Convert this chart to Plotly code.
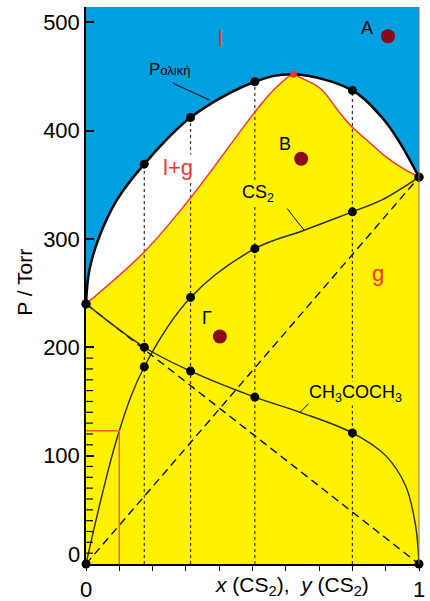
import plotly.graph_objects as go

# ---------------- data ----------------
# total pressure curve (liquid line), x(CS2) vs P / Torr
total_x = [0, 0.01, 0.04, 0.093, 0.175, 0.314, 0.507, 0.623, 0.80, 0.889, 0.94, 1]
total_p = [240, 271, 302, 336, 369, 412, 445, 452, 437, 412, 390, 357]

# vapour composition curve (red)
vap_x = [0, 0.175, 0.314, 0.507, 0.562, 0.623, 0.643, 0.703, 0.763, 0.80, 0.844, 0.904, 0.952, 1]
vap_p = [240, 288, 338, 417, 437, 452, 449, 439, 416, 403, 391, 375, 365, 357]

# partial pressure of CS2
cs2_x = [0, 0.1, 0.175, 0.314, 0.507, 0.655, 0.80, 0.889, 1]
cs2_p = [0, 123, 182, 246, 291, 308, 325, 336, 357]

# partial pressure of acetone
ac_x = [0, 0.175, 0.314, 0.507, 0.643, 0.80, 0.90, 0.96, 0.99, 1]
ac_p = [240, 200, 178, 154, 140, 121, 100, 72, 35, 0]

# measured points
sample_x = [0, 0.175, 0.314, 0.507, 0.80, 1]
total_dots = [240, 369, 412, 445, 437, 357]
cs2_dots = [0, 182, 246, 291, 325, 357]
ac_dots = [240, 200, 178, 154, 121, 0]

# azeotrope maximum
azeo_x = [0.623]
azeo_p = [452]

# state points A, B, Γ
state_names = ["A", "B", "Γ"]
state_x = [0.907, 0.646, 0.402]
state_p = [487, 374, 210]

# Raoult ideal lines
raoult_cs2_x = [0, 1]
raoult_cs2_p = [0, 357]
raoult_ac_x = [0, 1]
raoult_ac_p = [240, 0]

# red marker rectangle (x = 0.1)
mark_x = 0.1
mark_p = 123

y_major = [0, 100, 200, 300, 400, 500]
y_minor = [v for v in range(10, 200, 10) if v != 100]
x_ticks = [round(i * 0.1, 1) for i in range(11)]
x_ticktext = ["0"] + [""] * 9 + ["1"]

BLUE = "#009FE0"
YELLOW = "#FFF200"
RED = "#EE3535"
DARKRED = "#8A0A1A"
FONT = "Liberation Sans, Arial, sans-serif"

fig = go.Figure()

# fills
fig.add_trace(go.Scatter(x=total_x, y=total_p, mode="lines",
                         line=dict(width=0, shape="spline", smoothing=1),
                         fill="tozeroy", fillcolor="white", hoverinfo="skip"))
fig.add_trace(go.Scatter(x=vap_x, y=vap_p, mode="lines",
                         line=dict(width=0, shape="spline", smoothing=1),
                         fill="tozeroy", fillcolor=YELLOW, hoverinfo="skip"))

# vertical dotted tie lines
vx, vy = [], []
for xv, pv in zip(sample_x[1:-1], total_dots[1:-1]):
    vx += [xv, xv, None]
    vy += [0, pv, None]
fig.add_trace(go.Scatter(x=vx, y=vy, mode="lines",
                         line=dict(color="#333333", width=1.2, dash="3px,3px")))

# Raoult dashed lines
fig.add_trace(go.Scatter(x=raoult_cs2_x, y=raoult_cs2_p, mode="lines",
                         line=dict(color="black", width=1.3, dash="8px,5px")))
fig.add_trace(go.Scatter(x=raoult_ac_x, y=raoult_ac_p, mode="lines",
                         line=dict(color="black", width=1.3, dash="8px,5px")))

# partial pressure curves
fig.add_trace(go.Scatter(x=cs2_x, y=cs2_p, mode="lines",
                         line=dict(color="#2a2a1a", width=1.4, shape="spline", smoothing=1)))
fig.add_trace(go.Scatter(x=ac_x, y=ac_p, mode="lines",
                         line=dict(color="#2a2a1a", width=1.4, shape="spline", smoothing=1)))

# red vapour line
fig.add_trace(go.Scatter(x=vap_x, y=vap_p, mode="lines",
                         line=dict(color=RED, width=1.5, shape="spline", smoothing=1)))
# total pressure line
fig.add_trace(go.Scatter(x=total_x, y=total_p, mode="lines",
                         line=dict(color="black", width=2.5, shape="spline", smoothing=1)))

# red rectangle
fig.add_trace(go.Scatter(x=[0, mark_x, mark_x], y=[mark_p, mark_p, 0], mode="lines",
                         line=dict(color="#F05A28", width=1.5)))

# dots
dot = dict(color="black", size=9)
fig.add_trace(go.Scatter(x=sample_x, y=total_dots, mode="markers", marker=dot, cliponaxis=False))
fig.add_trace(go.Scatter(x=sample_x, y=cs2_dots, mode="markers", marker=dot, cliponaxis=False))
fig.add_trace(go.Scatter(x=sample_x, y=ac_dots, mode="markers", marker=dot, cliponaxis=False))
fig.add_trace(go.Scatter(x=azeo_x, y=azeo_p, mode="markers",
                         marker=dict(color=RED, size=7), cliponaxis=False))
fig.add_trace(go.Scatter(x=state_x, y=state_p, mode="markers",
                         marker=dict(color=DARKRED, size=14)))

shapes = []
for v in y_minor:
    shapes.append(dict(type="line", xref="paper", yref="y", x0=0, x1=0.021, y0=v, y1=v,
                       line=dict(color="black", width=1.2)))
# right border
shapes.append(dict(type="line", xref="paper", yref="paper", x0=1, x1=1, y0=0, y1=1,
                   line=dict(color="#777777", width=1)))
# leader lines
shapes.append(dict(type="line", xref="x", yref="y", x0=0.261, y0=443.7, x1=0.372, y1=428,
                   line=dict(color="black", width=1)))
shapes.append(dict(type="line", xref="x", yref="y", x0=0.604, y0=328, x1=0.655, y1=308,
                   line=dict(color="black", width=1)))
shapes.append(dict(type="line", xref="x", yref="y", x0=0.643, y0=140, x1=0.673, y1=149.4,
                   line=dict(color="black", width=1)))

ann = []
def label(text, x, y, size, color="black", bg=None, **kw):
    d = dict(text=text, x=x, y=y, xref="x", yref="y", showarrow=False,
             xanchor="center", yanchor="middle",
             font=dict(family=FONT, size=size, color=color), borderpad=0)
    if bg:
        d["bgcolor"] = bg
    d.update(kw)
    ann.append(d)

for name, xs, ps, dx, dy in zip(state_names, state_x, state_p,
                                [-0.063, -0.048, -0.039], [8, 14, 17]):
    label(name, xs + dx, ps + dy, 18)
label("l", 0.405, 485, 22, RED)
label("l+g", 0.277, 366, 22, RED, bg="white")
label("g", 0.877, 268, 22, RED)
label("P<span style='font-size:13px'>ολική</span>", 0.252, 456, 17)
label("CS<sub>2</sub>", 0.517, 342, 18, bg=YELLOW)
label("CH<sub>3</sub>COCH<sub>3</sub>", 0.808, 157, 18, bg=YELLOW)

ann.append(dict(text="<i>x</i> (CS<sub>2</sub>),&nbsp; <i>y</i> (CS<sub>2</sub>)", x=0.62, y=-0.04,
                xref="paper", yref="paper", showarrow=False, xanchor="center", yanchor="middle",
                font=dict(family=FONT, size=21, color="black")))
ann.append(dict(text="P / Torr", x=-0.183, y=0.505, xref="paper", yref="paper",
                showarrow=False, textangle=-90, xanchor="center", yanchor="middle",
                font=dict(family=FONT, size=21, color="black")))
ann.append(dict(text="0", x=-0.012, y=9, xref="paper", yref="y", xanchor="right",
                yanchor="middle",
                showarrow=False, font=dict(family=FONT, size=22, color="black")))

fig.update_layout(
    width=430, height=601,
    margin=dict(l=86, r=11, t=7, b=37, autoexpand=False),
    paper_bgcolor="white", plot_bgcolor=BLUE,
    showlegend=False,
    shapes=shapes, annotations=ann,
    xaxis=dict(range=[0, 1], tickvals=x_ticks, ticktext=x_ticktext, automargin=False,
               ticks="outside", ticklen=5, tickwidth=1, tickcolor="black",
               showgrid=False, zeroline=False, showline=True, linecolor="black", linewidth=1.5,
               tickfont=dict(family=FONT, size=22, color="black")),
    yaxis=dict(range=[0, 514], tickvals=y_major, ticktext=[""] + [str(v) for v in y_major[1:]],
               automargin=False,
               ticks="inside", ticklen=8, tickwidth=1.5, tickcolor="black",
               showgrid=False, zeroline=False, showline=True, linecolor="black", linewidth=1.5,
               tickfont=dict(family=FONT, size=22, color="black")),
)

fig.write_html("out.html", config={"displayModeBar": False},
               post_script="document.body.style.margin='0';document.body.style.overflow='hidden';")
